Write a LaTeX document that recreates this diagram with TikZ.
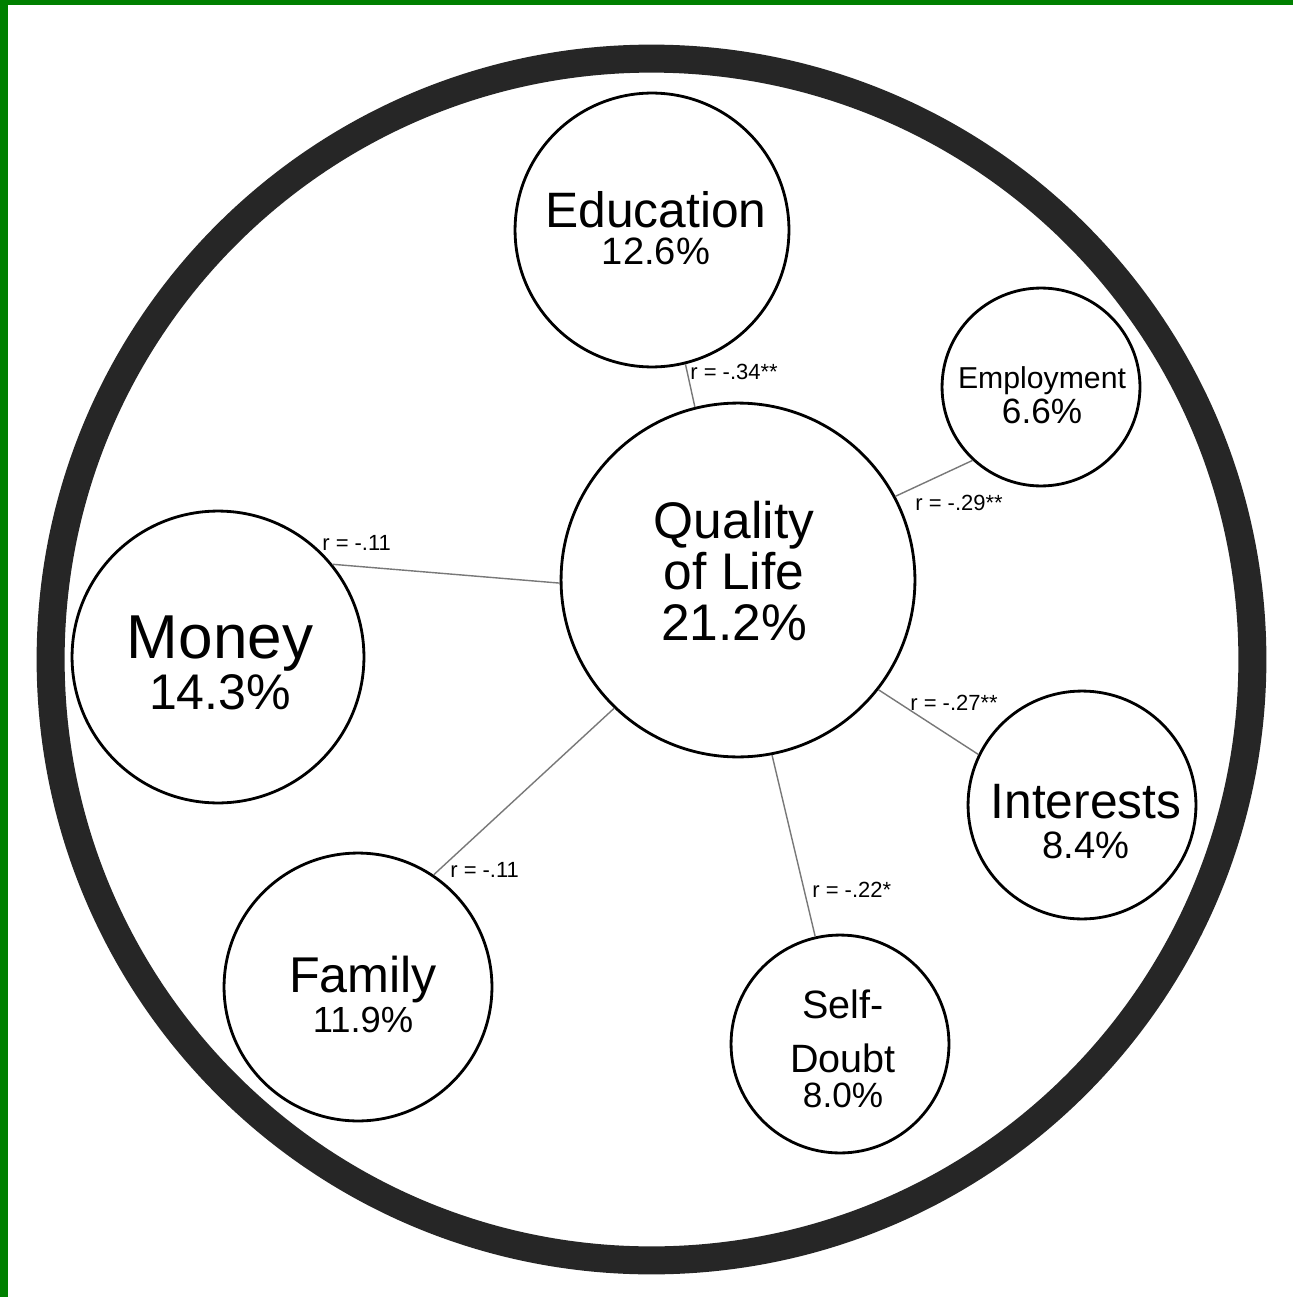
\documentclass[tikz,border=0pt]{standalone}
\usepackage{fontspec}
\setmainfont{Liberation Sans}
\definecolor{ringgray}{RGB}{38,38,38}
\definecolor{framegreen}{RGB}{0,128,0}
\definecolor{linkgray}{RGB}{120,120,120}
\tikzset{
    bubble/.style={circle, draw, line width=1.6pt, fill=white, inner sep=0pt, minimum size=#1*0.04cm},
    btext/.style={align=center, inner sep=0pt},
    link/.style={draw=linkgray, line width=0.8pt},
    rlab/.style={font=\fontsize{12.5}{14}\selectfont, inner sep=0pt, anchor=west}
}
\newcommand{\fs}[2]{\fontsize{#1}{#2}\selectfont}

\begin{document}
\begin{tikzpicture}[x=0.02cm, y=-0.02cm]
    \fill[white] (0,0) rectangle (1293,1297);
    \fill[framegreen] (0,0) rectangle (1293,5);
    \fill[framegreen] (0,0) rectangle (8,1297);
    \draw[ringgray, line width=0.56cm] (651.5,659.5) circle (12.02cm);

    \node[bubble=177] (qol) at (738,580) {};
    \node[bubble=137] (edu) at (652,230) {};
    \node[bubble=99] (emp) at (1041,387) {};
    \node[bubble=146] (money) at (218,657) {};
    \node[bubble=114] (int) at (1082,805) {};
    \node[bubble=134] (fam) at (358,987) {};
    \node[bubble=109] (self) at (840,1044) {};

    \node[btext, font=\fs{29.3}{29}] (qoltxt) at (734,571) {Quality\\of Life\\21.2\%};
    \node[btext, font=\fs{28.3}{21.1}] (edutxt) at (656,228.5) {Education\\\fs{21.7}{21.1}12.6\%};
    \node[btext, font=\fs{17.2}{19.9}] (emptxt) at (1042,395) {Employment\\\fs{20}{19.9}6.6\%};
    \node[btext, font=\fs{35.3}{29}] (moneytxt) at (220,663) {Money\\\fs{28.5}{29}14.3\%};
    \node[btext, font=\fs{28.3}{22.8}] (inttxt) at (1086,822) {Interests\\\fs{21.7}{22.8}8.4\%};
    \node[btext, font=\fs{28.6}{22.8}] (famtxt) at (363,994) {Family\\\fs{20.7}{22.8}11.9\%};
    \node[btext, font=\fs{22.5}{19.9}] (selftxt) at (843,1049) {Self-\\[10.8pt]Doubt\\\fs{20}{19.9}8.0\%};

    \draw[link] (edu.-76.3) -- (qol.104.4);
    \draw[link] (qol.28.4) -- (emp.227.4);
    \draw[link] (money.39.6) -- (qol.181);
    \draw[link] (fam.56.9) -- (qol.226.8);
    \draw[link] (qol.-79.8) -- (self.103);
    \draw[link] (qol.-38.9) -- (int.154);

    \node[rlab] (redu) at (690,372) {r = -.34**};
    \node[rlab] (remp) at (915,503) {r = -.29**};
    \node[rlab] (rmoney) at (322,543) {r = -.11};
    \node[rlab] (rfam) at (450,870) {r = -.11};
    \node[rlab] (rself) at (812,890) {r = -.22*};
    \node[rlab] (rint) at (910,703) {r = -.27**};
\end{tikzpicture}
\end{document}
